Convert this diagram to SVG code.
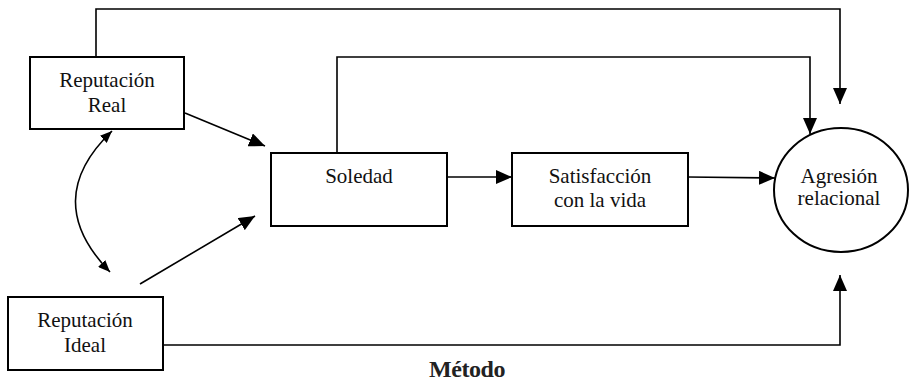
<svg xmlns="http://www.w3.org/2000/svg" width="912" height="381" viewBox="0 0 912 381">
<style>
.box{fill:#fff;stroke:#000;stroke-width:2}
text{font-family:'Liberation Serif',serif}
.t{font-size:21px;fill:#111;text-anchor:middle}
.c{fill:none;stroke:#000;stroke-width:1.6}
</style>
<defs>
<marker id="ah" markerUnits="userSpaceOnUse" markerWidth="16" markerHeight="14" viewBox="0 0 16 14" refX="16" refY="7" orient="auto"><path d="M0,0 L16,7 L0,14 z" fill="#000"/></marker>
<marker id="sh" markerUnits="userSpaceOnUse" markerWidth="12" markerHeight="10" viewBox="0 0 12 10" refX="12" refY="5" orient="auto-start-reverse"><path d="M0,0 L12,5 L0,10 z" fill="#000"/></marker>
</defs>
<rect width="912" height="381" fill="#fff"/>
<g id="connectors">
<path class="c" d="M96,57 V9 H840 V104" marker-end="url(#ah)"/>
<path class="c" d="M337,153 V57 H810 V134" marker-end="url(#ah)"/>
<path class="c" d="M163,345 H840 V275" marker-end="url(#ah)"/>
<path class="c" d="M185,113 L265,146" marker-end="url(#ah)"/>
<path class="c" d="M140,284 L255,216" marker-end="url(#ah)"/>
<path class="c" d="M447,177 L512,177" marker-end="url(#ah)"/>
<path class="c" d="M688,177 L775,178" marker-end="url(#ah)"/>
<path class="c" d="M112,131 Q40,200 110,272" marker-start="url(#sh)" marker-end="url(#sh)"/>
</g>
<g id="real">
<rect class="box" x="30" y="57" width="154" height="72"/>
<text class="t" x="107" y="87">Reputación</text>
<text class="t" x="107" y="112">Real</text>
</g>
<g id="ideal">
<rect class="box" x="8" y="297" width="155" height="73"/>
<text class="t" x="85" y="327">Reputación</text>
<text class="t" x="85" y="352">Ideal</text>
</g>
<g id="soledad">
<rect class="box" x="271" y="153" width="176" height="73"/>
<text class="t" x="359" y="183">Soledad</text>
</g>
<g id="satisfaccion">
<rect class="box" x="512" y="153" width="176" height="73"/>
<text class="t" x="600" y="183">Satisfacción</text>
<text class="t" x="600" y="207">con la vida</text>
</g>
<g id="agresion">
<ellipse class="box" cx="841" cy="190" rx="67" ry="62"/>
<text class="t" x="839" y="183">Agresión</text>
<text class="t" x="839" y="205">relacional</text>
</g>
<text x="467" y="377" font-weight="bold" font-size="24" text-anchor="middle" fill="#222" letter-spacing="-0.4">Método</text>
</svg>
